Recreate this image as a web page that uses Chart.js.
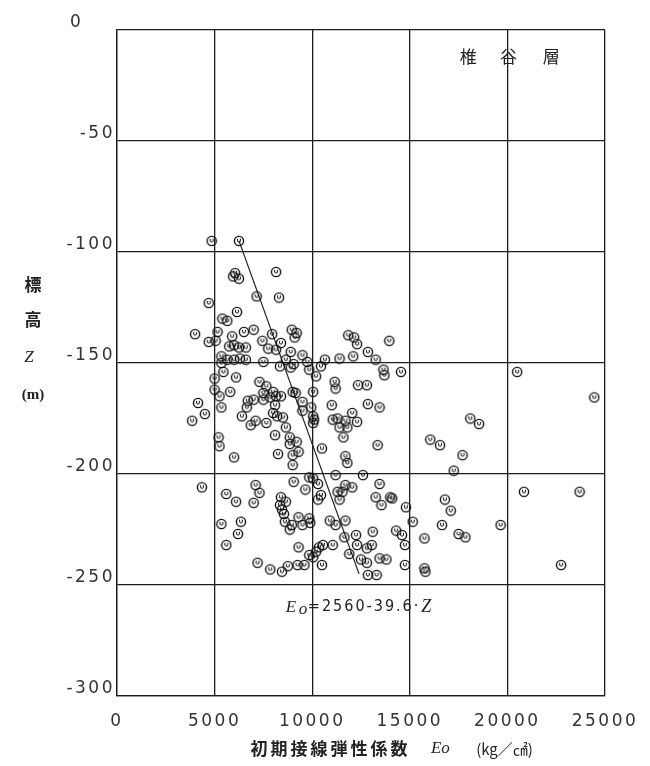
<!DOCTYPE html>
<html>
<head>
<meta charset="utf-8">
<script src="https://cdn.jsdelivr.net/npm/chart.js@4.4.1/dist/chart.umd.min.js"></script>
<style>
  html, body { margin: 0; padding: 0; background: #fff; }
  #wrap { width: 650px; height: 766px; position: relative; }
</style>
</head>
<body>
<div id="wrap"><canvas id="chart"></canvas></div>
<script>
// 初期接線弾性係数 Eo (kg/cm2) vs 標高 Z (m), 椎谷層
const eoValues = [
  4850, 6250, 8150, 6050, 5950, 6250, 7150, 8300, 4700, 6150, 5400, 5650, 4000, 5150, 5900, 6500, 7000, 7950, 8950, 9200,
  9100, 8400, 7450, 4700, 5050,
  11850, 12150, 12300, 13950,
  5750, 6000, 6250, 6600, 7750, 8150, 8900, 5350, 5650, 6000, 6300, 6600, 5350, 7500, 8350, 8650, 8900, 9050, 5450, 6100,
  5000, 5000, 5250, 5800, 5350, 4150, 4500, 3850, 7300, 7650, 7500, 8000, 8150, 8400, 7500, 7850, 8100, 6700, 7000, 6650,
  6400, 6850, 7100, 7650, 8000, 8200, 8500, 8650, 8100, 9000, 9150, 8850, 8850, 9200, 8250, 9000, 9300, 5200, 5250, 6000,
  9500, 9750, 9850, 10200, 10450, 10650, 11400, 12100, 12850, 13250, 13650, 13700, 14550, 11150, 11200, 12350, 12800, 10050,
  11000, 12050, 12850, 13450, 11050, 11300, 11700, 11400, 11800, 12300, 11600, 13350, 10500, 11700, 9500, 9500, 9950, 10050,
  10100, 10050,
  9000, 4350, 5600, 6100, 7100, 7300, 7000, 9050, 8400, 8650, 8350, 8450, 8550, 8600, 8950, 8850, 9300, 5350, 6350, 6200,
  5600, 7200, 7850, 8450, 8750, 9250, 9300,
  11800, 11200, 12600, 9850, 10050, 10300, 9650, 11700, 12050, 11300, 11550, 11400, 10450, 10300, 13450, 13250, 14000, 14100,
  13550, 14800, 15150, 11700, 10900, 11200, 9850, 9500, 9900, 13100, 14300, 14600, 12250, 11650, 12300, 10550, 11050, 10350,
  10200, 9850, 10050, 13050, 12800, 14750, 11900, 12500, 12800, 13450, 13800, 14750, 10500, 9600, 12850, 13300,
  16050, 16550, 18100, 18550, 17700, 17250, 20500, 24450, 20850, 23700, 16800, 17100, 16650, 19650, 17500, 17850, 15750,
  15750, 15800, 22750
];
const zValues = [
  -95, -95, -109, -109.5, -111, -112, -120, -120.5, -123, -127, -130, -131, -137, -136, -138, -136, -135, -137, -135, -136.5,
  -138.5, -141, -140, -140.5, -140,
  -137.5, -138.5, -141.5, -140,
  -142.5, -142, -143, -143, -143.5, -144, -145, -147, -148.5, -148.5, -148, -148.5, -150, -149.5, -151.5, -148.5, -152, -150.5, -154, -156.5,
  -157, -162, -165, -163, -170, -168, -173, -176, -158.5, -160.5, -163.5, -163, -165, -165, -166.5, -165.5, -169, -167, -166.5, -170,
  -174, -178, -176, -177, -172.5, -174, -174.5, -179, -182.5, -163, -163.5, -183.5, -186.5, -185.5, -191, -191.5, -190, -183.5, -187.5, -192.5,
  -146.5, -149.5, -153, -156, -151.5, -148.5, -148, -147, -145, -148.5, -153, -155.5, -154, -158.5, -161.5, -160, -160, -163,
  -169, -172.5, -168.5, -170, -175.5, -175, -176, -179, -179, -176.5, -183.5, -187, -188.5, -192, -167.5, -171.5, -170, -174,
  -175.5, -177,
  -196, -206, -209, -212.5, -205, -208.5, -213, -203.5, -210.5, -212.5, -214, -216, -218, -221.5, -223, -225, -219.5, -222.5, -221.5, -227,
  -232, -240, -243, -244, -241.5, -241, -233,
  -195, -200.5, -200.5, -201.5, -202, -204.5, -207, -205, -206, -208, -208, -211.5, -209.5, -211.5, -204.5, -210.5, -210.5, -211,
  -214, -215, -221.5, -221, -221, -223, -220, -223, -222, -226, -225.5, -227.5, -227.5, -228.5, -232, -232, -232, -233,
  -235, -236.5, -237.5, -232, -233.5, -232, -236, -238.5, -240, -238, -238.5, -241, -241, -241, -245.5, -245.5,
  -184.5, -187, -175, -177.5, -191.5, -198.5, -154, -165.5, -208, -208, -211.5, -216.5, -223, -223, -227, -228.5, -229,
  -242.5, -244, -241
];
// regression line Eo = 2560 - 39.6 Z, end points
const fitEo = [6250, 12400];
const fitZ = [-95, -245];

const xTickValues = [0, 5000, 10000, 15000, 20000, 25000];
const yTickValues = [-300, -250, -200, -150, -100, -50, 0];

const ink = "#1e1e1e";
const tickFont = { family: "'DejaVu Sans', sans-serif", size: 17 };

function makeMark() {
  const c = document.createElement("canvas");
  c.width = 12;
  c.height = 12;
  const g = c.getContext("2d");
  g.strokeStyle = "#111";
  g.lineWidth = 1.4;
  g.beginPath();
  g.arc(6, 6, 4.6, 0, Math.PI * 2);
  g.stroke();
  g.lineWidth = 1;
  g.beginPath();
  g.moveTo(4.6, 3.8);
  g.lineTo(4.6, 6.4);
  g.quadraticCurveTo(6, 8, 7.4, 6.4);
  g.lineTo(7.4, 3.8);
  g.stroke();
  return c;
}

const points = eoValues.map((e, i) => ({ x: e, y: zValues[i] }));
const fitLine = fitEo.map((e, i) => ({ x: e, y: fitZ[i] }));

const textPlugin = {
  id: "texts",
  beforeDraw(chart) {
    chart.ctx.letterSpacing = "2.5px";
  },
  afterDraw(chart) {
    const { ctx, chartArea } = chart;
    const x = chart.scales.x;
    const y = chart.scales.y;
    ctx.save();
    ctx.letterSpacing = "0px";
    ctx.fillStyle = "#222";
    ctx.textBaseline = "middle";
    ctx.textAlign = "center";

    // formation name
    ctx.font = "17px 'Noto Sans CJK JP'";
    const ty = y.getPixelForValue(-12);
    ctx.fillText("椎", x.getPixelForValue(18000), ty);
    ctx.fillText("谷", x.getPixelForValue(20050), ty);
    ctx.fillText("層", x.getPixelForValue(22250), ty);

    // y axis title, stacked
    const lx = chartArea.left - 84;
    ctx.font = "bold 17px 'Noto Sans CJK JP'";
    ctx.fillText("標", lx, y.getPixelForValue(-114.8));
    ctx.fillText("高", lx, y.getPixelForValue(-130.5));
    ctx.font = "italic 17px 'Liberation Serif'";
    ctx.fillText("Z", lx - 4, y.getPixelForValue(-147.6));
    ctx.font = "bold 15px 'Liberation Serif'";
    ctx.fillText("(m)", lx, y.getPixelForValue(-164.3));

    // regression equation
    ctx.textAlign = "left";
    const ex = x.getPixelForValue(8650);
    const ey = y.getPixelForValue(-260);
    ctx.font = "italic 17px 'Liberation Serif'";
    ctx.fillText("E", ex, ey);
    ctx.fillText("o", ex + 13, ey + 2);
    ctx.font = "16px 'DejaVu Sans Condensed', 'DejaVu Sans'";
    ctx.letterSpacing = "2px";
    const eq = "=2560-39.6·";
    ctx.fillText(eq, ex + 22, ey);
    const w = ctx.measureText(eq).width;
    ctx.letterSpacing = "0px";
    ctx.font = "italic 18px 'Liberation Serif'";
    ctx.fillText("Z", ex + 22 + w + 1, ey);

    // x axis title
    const by = chartArea.bottom + 53;
    ctx.font = "bold 17px 'Noto Sans CJK JP'";
    ctx.letterSpacing = "3px";
    ctx.fillText("初期接線弾性係数", x.getPixelForValue(6840), by);
    ctx.letterSpacing = "0px";
    ctx.font = "italic 17px 'Liberation Serif'";
    ctx.fillText("Eo", x.getPixelForValue(16080), by);
    ctx.font = "15px 'Noto Sans CJK JP'";
    ctx.fillText("(kg／㎠)", x.getPixelForValue(18400), by);
    ctx.restore();
  }
};

new Chart(document.getElementById("chart"), {
  type: "scatter",
  data: {
    datasets: [
      {
        label: "Eo",
        data: points,
        pointStyle: makeMark(),
        pointRadius: 6,
        order: 1
      },
      {
        label: "fit",
        type: "line",
        data: fitLine,
        borderColor: ink,
        borderWidth: 1.2,
        pointRadius: 0,
        fill: false,
        order: 2
      }
    ]
  },
  options: {
    responsive: true,
    maintainAspectRatio: false,
    animation: false,
    layout: { padding: { top: 30, right: 45, left: 0, bottom: 0 } },
    plugins: {
      legend: { display: false },
      tooltip: { enabled: false }
    },
    scales: {
      x: {
        type: "linear",
        min: 0,
        max: 25000,
        afterBuildTicks: s => { s.ticks = xTickValues.map(v => ({ value: v })) },
        afterFit: s => { s.height = 70 },
        grid: { color: ink, lineWidth: 1.3, drawTicks: false },
        border: { color: ink, width: 1.3 },
        ticks: { padding: 15, color: "#333", font: tickFont, maxRotation: 0, callback: v => String(v) }
      },
      y: {
        type: "linear",
        min: -300,
        max: 0,
        afterBuildTicks: s => { s.ticks = yTickValues.map(v => ({ value: v })) },
        afterFit: s => { s.width = 117 },
        grid: { color: ink, lineWidth: 1.3, drawTicks: false },
        border: { color: ink, width: 1.3 },
        ticks: {
          padding: 2,
          labelOffset: -7,
          color: "#333",
          font: tickFont,
          // the top label sits further left in the original
          callback: v => (v === 0 ? "0    " : String(v))
        }
      }
    }
  },
  plugins: [textPlugin]
});
</script>
</body>
</html>
